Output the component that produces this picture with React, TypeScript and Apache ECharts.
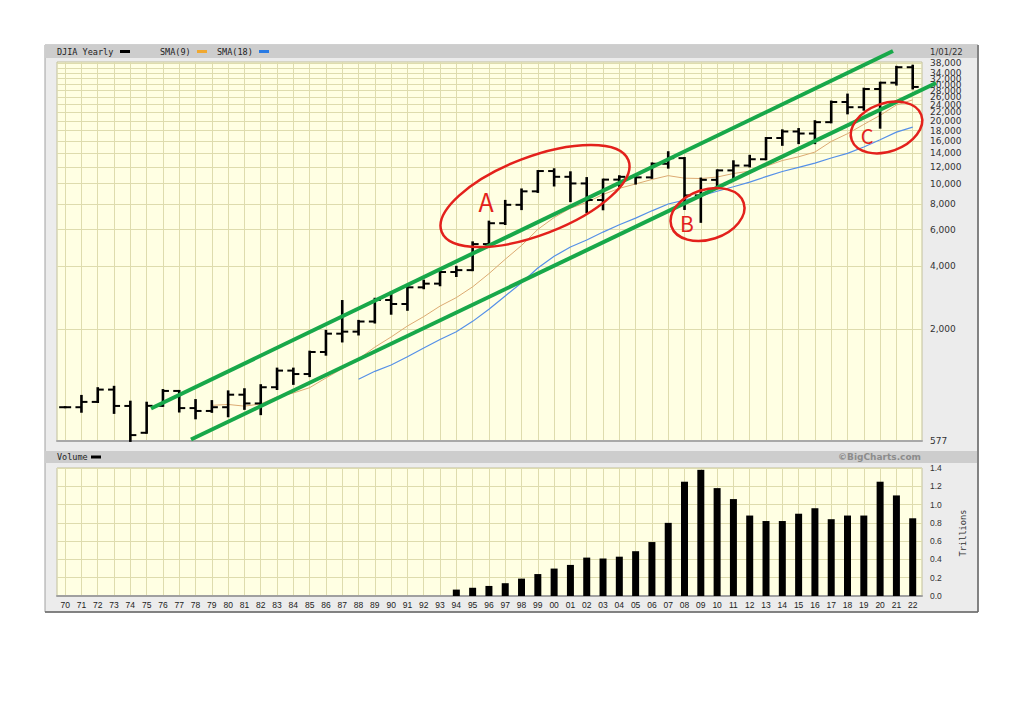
import React, { useEffect, useRef } from 'react';
import * as echarts from 'echarts';

const years = ['70','71','72','73','74','75','76','77','78','79','80','81','82','83','84','85','86','87','88','89','90','91','92','93','94','95','96','97','98','99','00','01','02','03','04','05','06','07','08','09','10','11','12','13','14','15','16','17','18','19','20','21','22'];

const opens = [839, 839, 890, 1020, 851, 632, 852, 1005, 831, 805, 839, 964, 875, 1047, 1259, 1212, 1547, 1896, 1939, 2169, 2753, 2634, 3169, 3301, 3754, 3834, 5117, 6448, 7908, 9181, 11497, 10787, 10021, 8342, 10454, 10783, 10718, 12463, 13265, 8776, 10428, 11578, 12218, 13104, 16577, 17823, 17425, 19763, 24719, 23327, 28538, 30606, 36338];
const highs = [839, 951, 1036, 1052, 892, 882, 1015, 1005, 908, 898, 1000, 1024, 1071, 1287, 1287, 1553, 1956, 2722, 2184, 2791, 3000, 3169, 3413, 3794, 3978, 5216, 6561, 8259, 9374, 11497, 11723, 11338, 10635, 10454, 10855, 10941, 12511, 14165, 13280, 10580, 11585, 12811, 13610, 16577, 18054, 18312, 19975, 24838, 26828, 28645, 30606, 36489, 36953];
const lows = [839, 798, 889, 788, 577.6, 632, 852, 800, 742, 797, 759, 824, 777, 1027, 1087, 1185, 1502, 1739, 1879, 2145, 2365, 2470, 3137, 3242, 3593, 3832, 5033, 6392, 7539, 9121, 9796, 8236, 7286, 7524, 9750, 10012, 10667, 11940, 7552, 6547, 9686, 10655, 12101, 13104, 15373, 15666, 15660, 19732, 21792, 22686, 18592, 29983, 28715];
const closes = [839, 890, 1020, 851, 616, 852, 1005, 831, 805, 839, 964, 875, 1047, 1259, 1212, 1547, 1896, 1939, 2169, 2753, 2634, 3169, 3301, 3754, 3834, 5117, 6448, 7908, 9181, 11497, 10787, 10021, 8342, 10454, 10783, 10718, 12463, 13265, 8776, 10428, 11578, 12218, 13104, 16577, 17823, 17425, 19763, 24719, 23327, 28538, 30606, 36338, 29200];

const sma9 = [null, null, null, null, null, null, null, null, null,
  857, 865, 849, 870, 942, 982, 1042, 1160, 1286, 1434,
  1633, 1828, 2064, 2291, 2574, 2828, 3186, 3687, 4324, 5038,
  6023, 6870, 7616, 8126, 8862, 9491, 9966, 10472, 10926, 10623,
  10583, 10756, 11187, 11481, 12125, 12915, 13466, 14188, 15959, 17393,
  19277, 21320, 23902, 25304];
const sma18 = [null, null, null, null, null, null, null, null, null, null, null, null, null, null, null, null, null, null,
  1145, 1249, 1339, 1467, 1617, 1778, 1935, 2173, 2487, 2879,
  3336, 3926, 4467, 4954, 5350, 5845, 6338, 6826, 7398, 7982,
  8323, 8727, 9186, 9657, 10172, 10808, 11440, 11969, 12557, 13291,
  13988, 15017, 16254, 17692, 18715];

const volume = [null, null, null, null, null, null, null, null, null, null, null, null, null, null, null, null, null, null, null, null, null, null, null, null,
  0.07, 0.09, 0.11, 0.14, 0.19, 0.24, 0.30, 0.34, 0.42, 0.41, 0.43, 0.49, 0.59, 0.80, 1.25, 1.38, 1.18, 1.06, 0.88, 0.82, 0.82, 0.90, 0.96, 0.84, 0.88, 0.88, 1.25, 1.10, 0.85];

const priceTicks = [577, 2000, 4000, 6000, 8000, 10000, 12000, 14000, 16000, 18000, 20000, 22000, 24000, 26000, 28000, 30000, 32000, 34000, 36000, 38000];
const priceMin = 577;
const priceMax = 38500;
const volumeMax = 1.4;

const GRID_COLOR = '#dedcae';
const RED = '#e3211c';
const GREEN = '#18a84a';

export default function App() {
  const ref = useRef<HTMLDivElement>(null);

  useEffect(() => {
    if (!ref.current) return;
    const chart = echarts.init(ref.current, undefined, { renderer: 'svg' });
    const idx = years.map((_, i) => i);
    const lg = (v: number) => Math.log10(v);

    const ohlc = years.map((_, i) => [i, lg(opens[i]), lg(highs[i]), lg(lows[i]), lg(closes[i])]);
    const sma9Data = sma9.map((v, i) => (v == null ? null : [i, lg(v)])).filter((d) => d) as number[][];
    const sma18Data = sma18.map((v, i) => (v == null ? null : [i, lg(v)])).filter((d) => d) as number[][];
    const volData = volume.map((v, i) => (v == null ? null : [i, v])).filter((d) => d) as number[][];
    const priceTickLogs = priceTicks.map(lg);

    const xCommon = {
      type: 'value',
      min: -0.5,
      max: 52.57,
      axisTick: { show: false, customValues: idx },
      splitLine: { show: true, lineStyle: { color: GRID_COLOR, width: 1 } },
    };

    const txt = (x: number, y: number, text: string, font: string, fill: string, align = 'left', extra: any = {}) => ({
      type: 'text', x, y, z: 50,
      style: { text, font, fill, align, verticalAlign: 'middle' },
      ...extra,
    });

    const graphics: any[] = [
      { type: 'rect', z: -10, shape: { x: 45, y: 45, width: 933, height: 567 }, style: { fill: '#ececec', stroke: '#a0a0a0', lineWidth: 1 } },
      { type: 'rect', z: -9, shape: { x: 45, y: 45, width: 933, height: 13 }, style: { fill: '#cdcdcd' } },
      { type: 'rect', z: -9, shape: { x: 45, y: 451, width: 933, height: 12 }, style: { fill: '#cdcdcd' } },
      { type: 'line', z: -8, shape: { x1: 978, y1: 45, x2: 978, y2: 612 }, style: { stroke: '#6a6a6a', lineWidth: 1.5 } },
      { type: 'line', z: -8, shape: { x1: 45, y1: 612, x2: 978, y2: 612 }, style: { stroke: '#6a6a6a', lineWidth: 1.5 } },
      txt(57, 51.5, 'DJIA Yearly', '8.5px "DejaVu Sans Mono"', '#222'),
      { type: 'rect', z: 50, shape: { x: 120, y: 50, width: 10, height: 3 }, style: { fill: '#000' } },
      txt(160, 51.5, 'SMA(9)', '8.5px "DejaVu Sans Mono"', '#222'),
      { type: 'rect', z: 50, shape: { x: 197, y: 50, width: 10, height: 3 }, style: { fill: '#f0a830' } },
      txt(217, 51.5, 'SMA(18)', '8.5px "DejaVu Sans Mono"', '#222'),
      { type: 'rect', z: 50, shape: { x: 259, y: 50, width: 10, height: 3 }, style: { fill: '#2a7be4' } },
      txt(930, 51.5, '1/01/22', '8.5px "DejaVu Sans"', '#333'),
      txt(57, 457, 'Volume', '8.5px "DejaVu Sans Mono"', '#222'),
      { type: 'rect', z: 50, shape: { x: 91, y: 455.5, width: 10, height: 3 }, style: { fill: '#000' } },
      txt(921, 457, '©BigCharts.com', 'bold 9px "DejaVu Sans"', '#8c8c8c', 'right'),
      txt(963, 533, 'Trillions', '8.7px "DejaVu Sans Mono"', '#333', 'center', { rotation: Math.PI / 2 }),
      // annotations
      { type: 'line', z: 100, shape: { x1: 151, y1: 408.5, x2: 893, y2: 51 }, style: { stroke: GREEN, lineWidth: 4 } },
      { type: 'line', z: 100, shape: { x1: 191, y1: 439.5, x2: 936, y2: 83 }, style: { stroke: GREEN, lineWidth: 4 } },
      { type: 'ellipse', z: 101, x: 535, y: 196, rotation: (21 * Math.PI) / 180, shape: { cx: 0, cy: 0, rx: 100, ry: 39 }, style: { fill: 'none', stroke: RED, lineWidth: 2.5 } },
      { type: 'ellipse', z: 101, x: 707.5, y: 214.5, rotation: (18 * Math.PI) / 180, shape: { cx: 0, cy: 0, rx: 38, ry: 25 }, style: { fill: 'none', stroke: RED, lineWidth: 2.5 } },
      { type: 'ellipse', z: 101, x: 886.5, y: 127.5, rotation: (20 * Math.PI) / 180, shape: { cx: 0, cy: 0, rx: 37, ry: 24 }, style: { fill: 'none', stroke: RED, lineWidth: 2.5 } },
      txt(486, 201, 'A', '25px "Noto Sans CJK JP"', RED, 'center', { z: 102 }),
      txt(687, 223, 'B', '21px "Noto Sans CJK JP"', RED, 'center', { z: 102 }),
      txt(867, 135, 'C', '20px "Noto Sans CJK JP"', RED, 'center', { z: 102 }),
    ];

    const option: any = {
      animation: false,
      backgroundColor: '#ffffff',
      grid: [
        { left: 57, top: 62, width: 865, height: 379, show: true, backgroundColor: '#ffffe3', borderColor: '#c2c09a', borderWidth: 1, outerBoundsMode: 'none' },
        { left: 57, top: 468, width: 865, height: 128, show: true, backgroundColor: '#ffffe3', borderColor: '#c2c09a', borderWidth: 1, outerBoundsMode: 'none' },
      ],
      xAxis: [
        { ...xCommon, gridIndex: 0, axisLabel: { show: false }, axisLine: { show: true, onZero: false, lineStyle: { color: '#a8a8a8', width: 2 } } },
        {
          ...xCommon, gridIndex: 1,
          axisLine: { show: true, onZero: false, lineStyle: { color: '#a0a0a0', width: 2 } },
          axisLabel: { show: true, customValues: idx, formatter: (v: number) => years[Math.round(v)], margin: 4, fontSize: 8.5, fontFamily: 'Liberation Sans', color: '#222', hideOverlap: false, showMinLabel: true, showMaxLabel: true },
        },
      ],
      yAxis: [
        {
          type: 'value', gridIndex: 0, position: 'right',
          min: lg(priceMin), max: lg(priceMax),
          axisLine: { show: false },
          axisTick: { show: false, customValues: priceTickLogs },
          axisLabel: {
            show: true, customValues: priceTickLogs, hideOverlap: false, showMinLabel: true, showMaxLabel: true,
            formatter: (v: number) => Math.round(Math.pow(10, v)).toLocaleString('en-US'),
            margin: 8, fontSize: 9, fontFamily: 'DejaVu Sans', color: '#333',
          },
          splitLine: { show: true, lineStyle: { color: GRID_COLOR, width: 1 } },
        },
        {
          type: 'value', gridIndex: 1, position: 'right',
          min: 0, max: volumeMax, interval: 0.2,
          axisLine: { show: false },
          axisTick: { show: false },
          axisLabel: { show: true, formatter: (v: number) => v.toFixed(1), margin: 8, fontSize: 8.5, fontFamily: 'Liberation Sans', color: '#333', hideOverlap: false, showMinLabel: true, showMaxLabel: true },
          splitLine: { show: true, lineStyle: { color: GRID_COLOR, width: 1 } },
        },
      ],
      series: [
        {
          type: 'custom', xAxisIndex: 0, yAxisIndex: 0, z: 5,
          encode: { x: 0, y: [1, 2, 3, 4] },
          data: ohlc,
          renderItem: (_p: any, api: any) => {
            const x = api.value(0);
            const pO = api.coord([x, api.value(1)]);
            const pH = api.coord([x, api.value(2)]);
            const pL = api.coord([x, api.value(3)]);
            const pC = api.coord([x, api.value(4)]);
            const st = { stroke: '#000', lineWidth: 2.6 };
            const tk = { stroke: '#000', lineWidth: 2 };
            return {
              type: 'group',
              children: [
                { type: 'line', shape: { x1: pH[0], y1: pH[1] - 1, x2: pL[0], y2: pL[1] + 1 }, style: st },
                { type: 'line', shape: { x1: pO[0] - 6, y1: pO[1], x2: pO[0], y2: pO[1] }, style: tk },
                { type: 'line', shape: { x1: pC[0], y1: pC[1], x2: pC[0] + 6, y2: pC[1] }, style: tk },
              ],
            };
          },
        },
        {
          type: 'line', name: 'SMA(9)', xAxisIndex: 0, yAxisIndex: 0, z: 4,
          data: sma9Data, showSymbol: false, symbol: 'none',
          lineStyle: { color: '#dcaa72', width: 1 },
        },
        {
          type: 'line', name: 'SMA(18)', xAxisIndex: 0, yAxisIndex: 0, z: 4,
          data: sma18Data, showSymbol: false, symbol: 'none',
          lineStyle: { color: '#5590e8', width: 1.2 },
        },
        {
          type: 'bar', name: 'Volume', xAxisIndex: 1, yAxisIndex: 1,
          data: volData, barWidth: 7, itemStyle: { color: '#000' },
        },
      ],
      graphic: graphics,
    };

    chart.setOption(option);
    return () => chart.dispose();
  }, []);

  return (
    <div style={{ position: 'fixed', left: 0, top: 0, width: 1024, height: 724, background: '#fff' }}>
      <div ref={ref} style={{ width: 1024, height: 724 }} />
    </div>
  );
}
